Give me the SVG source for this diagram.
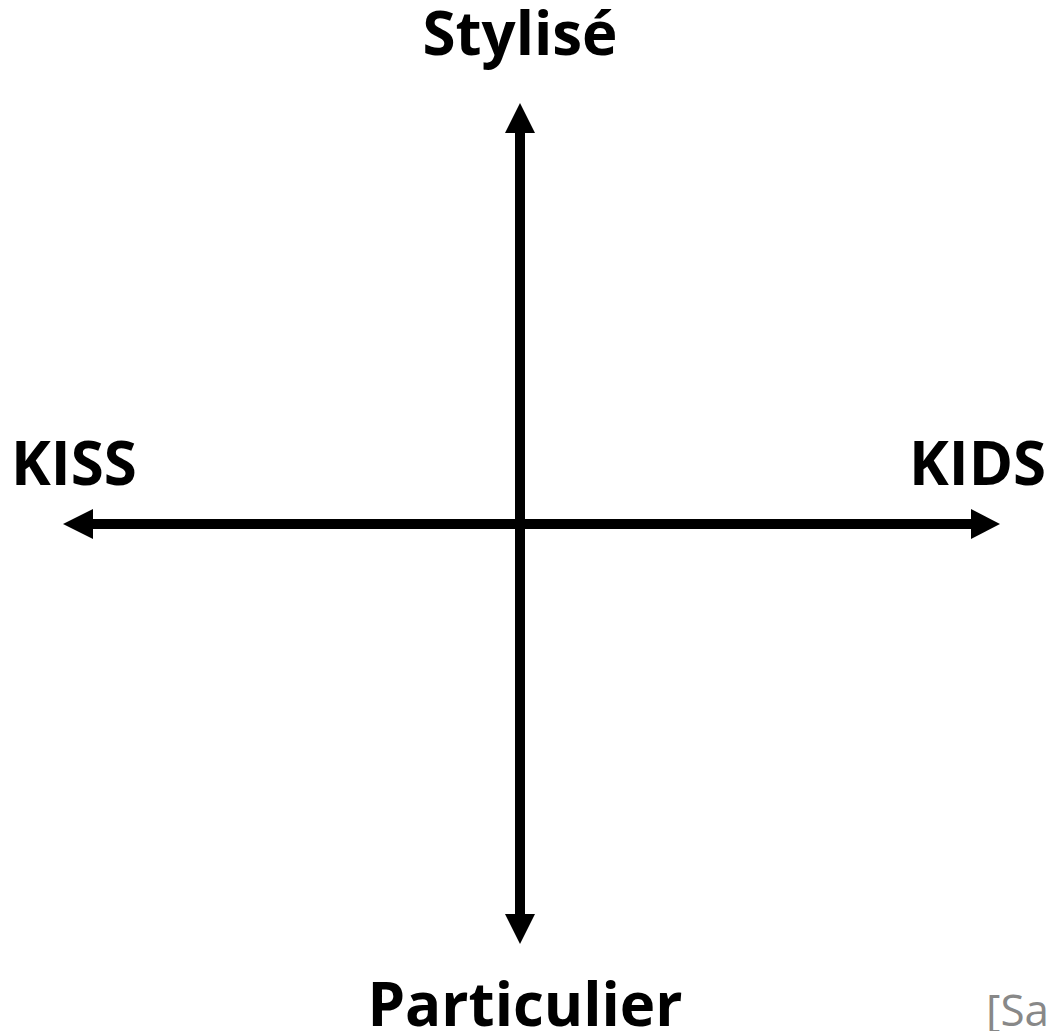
<svg xmlns="http://www.w3.org/2000/svg" width="1050" height="1031" viewBox="0 0 1050 1031">
<style>
.lbl{font-family:"Open Sans","Noto Sans",sans-serif;font-weight:bold;font-size:60px;fill:#000}
.ax{stroke:#000;stroke-width:10;fill:none}
.note{font-family:"Open Sans","Noto Sans",sans-serif;font-size:44px;fill:#888}
</style>
<rect width="1050" height="1031" fill="#fff"/>
<g id="connectors">
<line class="ax" x1="520" y1="130" x2="520" y2="916"/>
<polygon points="520,103 505,133 535,133"/>
<polygon points="520,944 505,914 535,914"/>
<line class="ax" x1="91" y1="524" x2="973" y2="524"/>
<polygon points="63,524 93,509 93,539"/>
<polygon points="1000,524 971,509 971,539"/>
</g>
<g id="top"><text class="lbl" x="520" y="55" text-anchor="middle">Stylisé</text></g>
<g id="bottom"><text class="lbl" x="525" y="1026" text-anchor="middle">Particulier</text></g>
<g id="left"><text class="lbl" x="11" y="485">KISS</text></g>
<g id="right"><text class="lbl" x="909" y="485">KIDS</text></g>
<g id="note"><text class="note" x="986" y="1026">[Sa</text></g>
</svg>
